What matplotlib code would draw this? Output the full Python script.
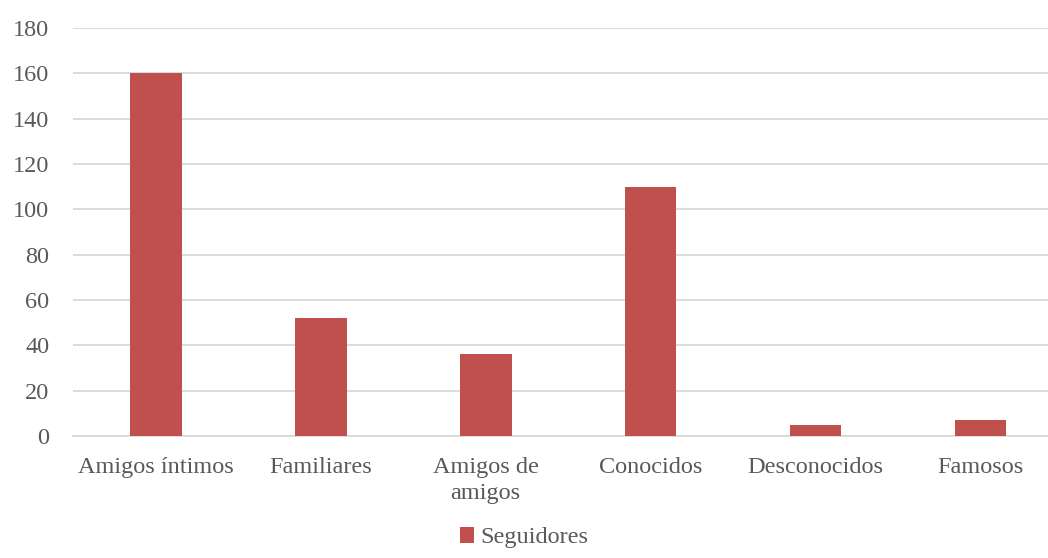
import matplotlib.pyplot as plt
import numpy as np

categorias = ['Amigos íntimos', 'Familiares', 'Amigos de\namigos', 'Conocidos', 'Desconocidos', 'Famosos']
seguidores = [160, 52, 36, 110, 5, 7]
yticks = [0, 20, 40, 60, 80, 100, 120, 140, 160, 180]

plt.rcParams['font.family'] = ['Liberation Serif', 'DejaVu Serif']

fig = plt.figure(figsize=(10.48, 5.58), dpi=100)
# the plot area runs a little past the right edge of the canvas
ax = fig.add_axes([0.0697, 0.2186, 0.9446, 0.7312])

x = np.arange(len(categorias))
ax.bar(x, seguidores, width=0.315, color='#C0504D', label='Seguidores', zorder=3)

ax.set_ylim(0, 180)
ax.set_xlim(-0.5, len(categorias) - 0.5)
ax.set_yticks(yticks)
ax.set_xticks(x)
ax.set_xticklabels(categorias, linespacing=1.3)
ax.grid(axis='y', color='#d9d9d9', linewidth=1.3, zorder=0)
ax.tick_params(axis='both', length=0, labelsize=17.5, labelcolor='#595959')
ax.tick_params(axis='x', pad=15)
ax.tick_params(axis='y', pad=17)
for s in ['top', 'right', 'left']:
    ax.spines[s].set_visible(False)
ax.spines['bottom'].set_color('#d9d9d9')
ax.spines['bottom'].set_linewidth(1.3)

leg = fig.legend(loc='lower center', bbox_to_anchor=(0.5, -0.022), frameon=False,
                 fontsize=17.5, handlelength=0.6, handleheight=0.6, handletextpad=0.25)
for t in leg.get_texts():
    t.set_color('#595959')

fig.savefig('out.png', dpi=100)
